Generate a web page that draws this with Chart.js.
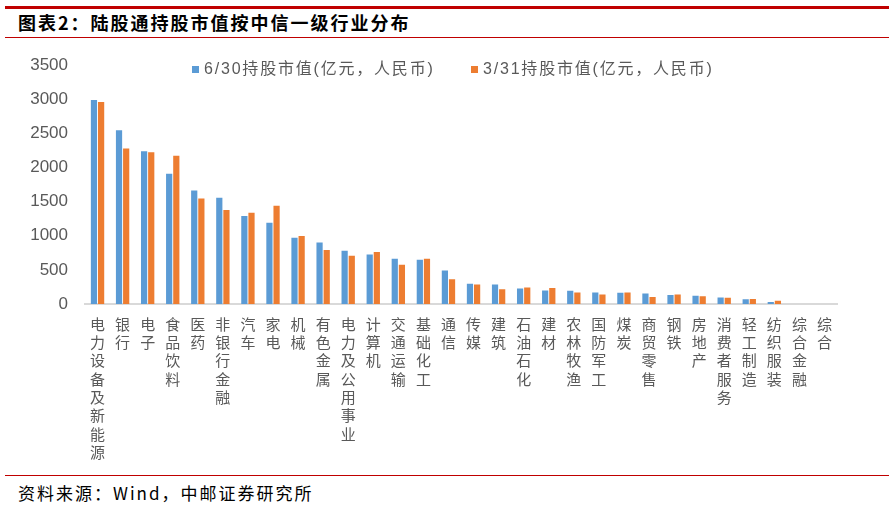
<!DOCTYPE html>
<html>
<head>
<meta charset="utf-8">
<script src="https://cdn.jsdelivr.net/npm/chart.js@4.4.1/dist/chart.umd.min.js"></script>
<style>
  html, body { margin: 0; padding: 0; background: #fff; }
  body { width: 895px; height: 510px; position: relative; overflow: hidden; font-family: "Noto Sans CJK SC", sans-serif; }
  .rule { position: absolute; left: 5px; width: 884px; background: #c00000; }
  #title { position: absolute; left: 18px; top: 10px; font-size: 18px; font-weight: bold; color: #000; letter-spacing: 2px; line-height: 24px; }
  #source { position: absolute; left: 18px; top: 482px; font-size: 17px; color: #000; letter-spacing: 2px; line-height: 22px; }
  #legend { position: absolute; top: 58px; left: 0; width: 895px; height: 22px; }
  .item { position: absolute; top: 0; font-family: "Liberation Sans", "Noto Sans CJK SC", sans-serif; font-size: 16px; line-height: 22px; color: #595959; letter-spacing: 1.8px; white-space: nowrap; }
  .item i { display: inline-block; width: 7px; height: 7px; margin-right: 5px; vertical-align: 1px; }
  #wrap { position: absolute; left: 0; top: 38px; width: 895px; height: 432px; }
</style>
</head>
<body>
<div class="rule" style="top:6px;height:3px"></div>
<div id="title">图表2：陆股通持股市值按中信一级行业分布</div>
<div class="rule" style="top:37px;height:1px"></div>
<div id="wrap"><canvas id="c"></canvas></div>
<div id="legend"></div>
<div class="rule" style="top:475px;height:1px"></div>
<div id="source">资料来源：Wind，中邮证券研究所</div>
<script>
var categories = ['电力设备及新能源', '银行', '电子', '食品饮料', '医药', '非银行金融', '汽车', '家电', '机械', '有色金属',
  '电力及公用事业', '计算机', '交通运输', '基础化工', '通信', '传媒', '建筑', '石油石化', '建材', '农林牧渔',
  '国防军工', '煤炭', '商贸零售', '钢铁', '房地产', '消费者服务', '轻工制造', '纺织服装', '综合金融', '综合'];
var seriesNames = ['6/30持股市值(亿元，人民币)', '3/31持股市值(亿元，人民币)'];
var june30 = [2990, 2545, 2240, 1910, 1663, 1556, 1290, 1192, 970, 902,
  781, 727, 664, 650, 490, 296, 286, 228, 199, 194,
  170, 165, 155, 131, 121, 97, 68, 29, 0, 0];
var march31 = [2962, 2278, 2225, 2172, 1546, 1377, 1338, 1440, 996, 790,
  708, 761, 577, 664, 364, 286, 218, 243, 233, 170,
  141, 170, 102, 141, 112, 92, 73, 48, 0, 0];
var yTicks = [0, 500, 1000, 1500, 2000, 2500, 3000, 3500];
var colors = ['#5b9bd5', '#ed7d31'];

// vertical labels: one character per line
var labels = categories.map(function (s) { return s.split(''); });

var chart = new Chart(document.getElementById('c').getContext('2d'), {
  type: 'bar',
  data: {
    labels: labels,
    datasets: [
      { label: seriesNames[0], data: june30, backgroundColor: colors[0] },
      { label: seriesNames[1], data: march31, backgroundColor: colors[1] }
    ]
  },
  options: {
    responsive: true,
    maintainAspectRatio: false,
    animation: false,
    layout: { padding: { left: 0, right: 58, top: 12, bottom: 0 } },
    datasets: { bar: { categoryPercentage: 0.57, barPercentage: 0.87 } },
    plugins: { legend: { display: false }, tooltip: { enabled: false } },
    scales: {
      x: {
        grid: { display: false, drawTicks: false },
        border: { display: true, color: '#d9d9d9', width: 2 },
        ticks: {
          autoSkip: false, maxRotation: 0, minRotation: 0, padding: 11,
          color: '#595959',
          font: { family: '"Noto Sans CJK SC", sans-serif', size: 15, lineHeight: 1.22 }
        },
        afterFit: function (scale) { scale.height = 166; }
      },
      y: {
        min: 0, max: 3500,
        grid: { display: false, drawTicks: false },
        border: { display: false },
        afterBuildTicks: function (scale) { scale.ticks = yTicks.map(function (v) { return { value: v }; }); },
        ticks: {
          padding: 17, color: '#595959',
          font: { family: '"Liberation Sans", Arial, sans-serif', size: 17 },
          callback: function (v) { return String(v); }
        },
        afterFit: function (scale) { scale.width = 85; }
      }
    }
  }
});

// legend built from the chart's datasets
var legend = document.getElementById('legend');
var legendX = [192, 471];
chart.data.datasets.forEach(function (ds, i) {
  var el = document.createElement('div');
  el.className = 'item';
  el.style.left = legendX[i] + 'px';
  el.innerHTML = '<i style="background:' + ds.backgroundColor + '"></i>' + ds.label;
  legend.appendChild(el);
});
</script>
</body>
</html>
